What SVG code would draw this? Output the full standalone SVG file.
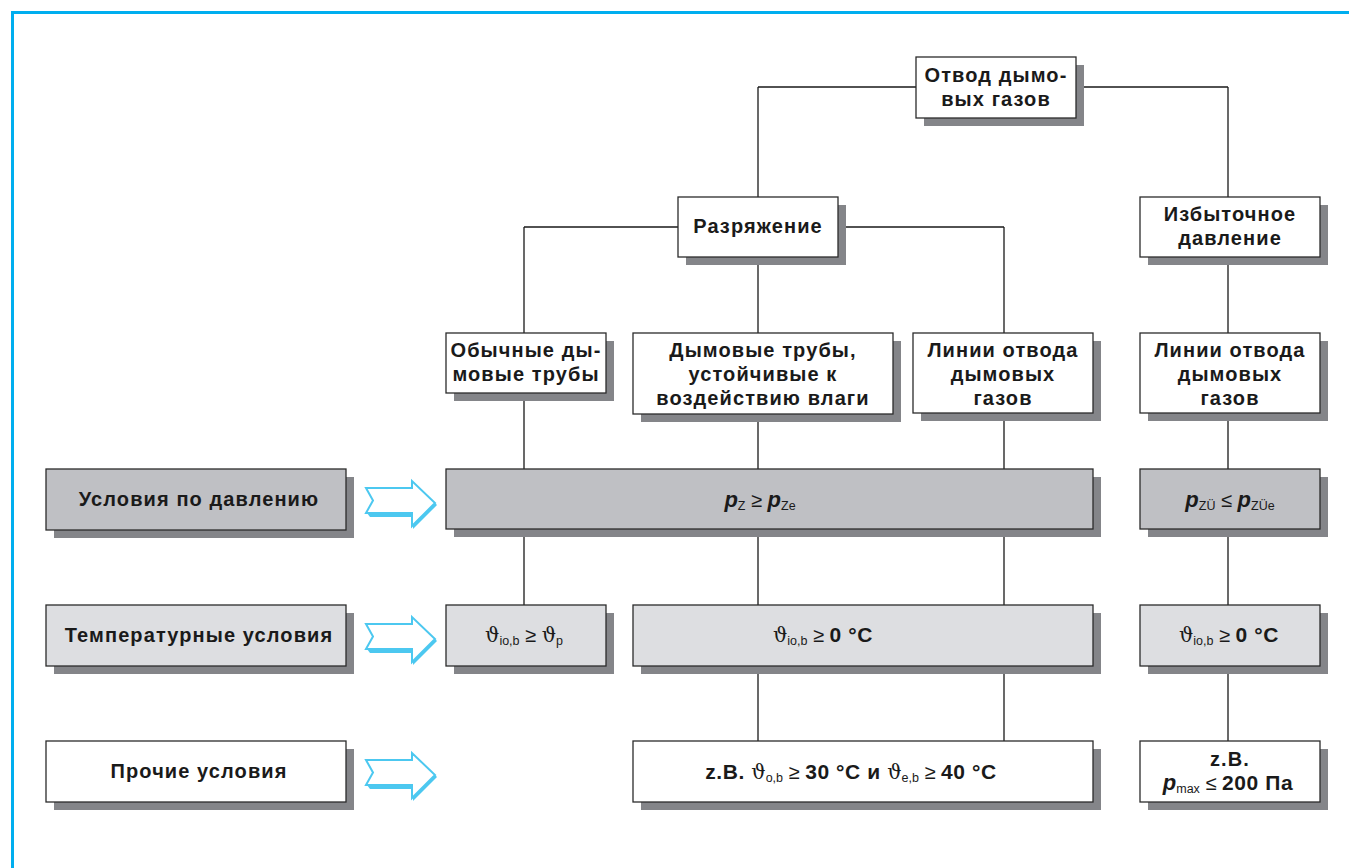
<svg xmlns="http://www.w3.org/2000/svg" width="1349" height="868" viewBox="0 0 1349 868">
  <defs>
    <style>
      .frame { fill: none; stroke: #00aeef; stroke-width: 3; }
      .shadow { fill: #848589; }
      .box { stroke: #2b2b2b; stroke-width: 1.3; }
      .white { fill: #ffffff; }
      .mid { fill: #bfc0c4; }
      .light { fill: #dddee1; }
      .lbl { font-family: "Liberation Sans", Arial, sans-serif; font-size: 20px; letter-spacing: 1.1px; font-weight: bold; fill: #1a1a1a; text-anchor: middle; }
      .f { font-family: "Liberation Sans", Arial, sans-serif; font-size: 20px; fill: #1a1a1a; text-anchor: middle; }
      .b { font-weight: bold; font-size: 21px; letter-spacing: 0.6px; }
      .bi { font-weight: bold; font-style: italic; font-size: 22px; }
      .sub { font-size: 12.5px; font-weight: normal; font-style: normal; letter-spacing: 0; }
      .th { font-family: "DejaVu Serif", "Liberation Serif", serif; font-size: 20px; font-weight: normal; }
      .conn { stroke: #1a1a1a; stroke-width: 1.3; fill: none; }
      .arrow { fill: #ffffff; stroke: #4cc8f0; stroke-width: 2; stroke-linejoin: miter; }
      .arrow-edge { fill: #4cc8f0; }
    </style>
    <g id="bigArrow">
      <polygon class="arrow" points="0,8 46,8 46,1 69,23 46,46 46,33 0,33 7,20.5"/>
      <polygon class="arrow-edge" points="1,33 46,33 46,46 69,23 71,25 47,49 47,37 4,37"/>
    </g>
  </defs>

  <!-- page frame -->
  <path class="frame" d="M12.5,868 V12.5 H1349"/>

  <!-- connectors -->
  <g id="connectors">
    <path class="conn" d="M758,87 H916 M1076,87 H1228 M758,87 V197 M1228,87 V197"/>
    <path class="conn" d="M524,227 H678 M838,227 H1004 M524,227 V333 M1004,227 V333 M758,257 V333 M1228,257 V333"/>
    <path class="conn" d="M524,393 V469 M758,414 V469 M1004,413 V469 M1228,413 V469"/>
    <path class="conn" d="M524,529 V605 M758,529 V605 M1004,529 V605 M1228,529 V605"/>
    <path class="conn" d="M758,666 V741 M1004,666 V741 M1228,666 V741"/>
  </g>

  <!-- tree nodes -->
  <g id="node-otvod">
    <rect class="shadow" x="924" y="65" width="160" height="61"/>
    <rect class="box white" x="916" y="57" width="160" height="61"/>
    <text class="lbl" x="996" y="82">Отвод дымо-</text>
    <text class="lbl" x="996" y="106">вых газов</text>
  </g>

  <g id="node-razr">
    <rect class="shadow" x="686" y="205" width="160" height="60"/>
    <rect class="box white" x="678" y="197" width="160" height="60"/>
    <text class="lbl" x="758" y="233">Разряжение</text>
  </g>

  <g id="node-izb">
    <rect class="shadow" x="1148" y="205" width="180" height="60"/>
    <rect class="box white" x="1140" y="197" width="180" height="60"/>
    <text class="lbl" x="1230" y="221">Избыточное</text>
    <text class="lbl" x="1230" y="245">давление</text>
  </g>

  <g id="node-obych">
    <rect class="shadow" x="454" y="341" width="160" height="60"/>
    <rect class="box white" x="446" y="333" width="160" height="60"/>
    <text class="lbl" x="526" y="357">Обычные ды-</text>
    <text class="lbl" x="526" y="381">мовые трубы</text>
  </g>

  <g id="node-vlaga">
    <rect class="shadow" x="641" y="341" width="260" height="81"/>
    <rect class="box white" x="633" y="333" width="260" height="81"/>
    <text class="lbl" x="763" y="357">Дымовые трубы,</text>
    <text class="lbl" x="763" y="381">устойчивые к</text>
    <text class="lbl" x="763" y="405">воздействию влаги</text>
  </g>

  <g id="node-linii1">
    <rect class="shadow" x="921" y="341" width="180" height="80"/>
    <rect class="box white" x="913" y="333" width="180" height="80"/>
    <text class="lbl" x="1003" y="357">Линии отвода</text>
    <text class="lbl" x="1003" y="381">дымовых</text>
    <text class="lbl" x="1003" y="405">газов</text>
  </g>

  <g id="node-linii2">
    <rect class="shadow" x="1148" y="341" width="180" height="80"/>
    <rect class="box white" x="1140" y="333" width="180" height="80"/>
    <text class="lbl" x="1230" y="357">Линии отвода</text>
    <text class="lbl" x="1230" y="381">дымовых</text>
    <text class="lbl" x="1230" y="405">газов</text>
  </g>

  <!-- row: pressure -->
  <g id="label-pressure">
    <rect class="shadow" x="54" y="477" width="300" height="61"/>
    <rect class="box mid" x="46" y="469" width="300" height="61"/>
    <text class="lbl" x="199" y="506">Условия по давлению</text>
  </g>
  <use href="#bigArrow" x="366" y="480"/>
  <g id="cond-pressure-1">
    <rect class="shadow" x="454" y="477" width="647" height="60"/>
    <rect class="box mid" x="446" y="469" width="647" height="60"/>
    <text class="f" x="760" y="507"><tspan class="bi">p</tspan><tspan class="sub" dy="3">Z</tspan><tspan dy="-3"> ≥ </tspan><tspan class="bi">p</tspan><tspan class="sub" dy="3">Ze</tspan></text>
  </g>
  <g id="cond-pressure-2">
    <rect class="shadow" x="1148" y="477" width="180" height="60"/>
    <rect class="box mid" x="1140" y="469" width="180" height="60"/>
    <text class="f" x="1230" y="507"><tspan class="bi">p</tspan><tspan class="sub" dy="3">ZÜ</tspan><tspan dy="-3"> ≤ </tspan><tspan class="bi">p</tspan><tspan class="sub" dy="3">ZÜe</tspan></text>
  </g>

  <!-- row: temperature -->
  <g id="label-temp">
    <rect class="shadow" x="54" y="613" width="300" height="61"/>
    <rect class="box light" x="46" y="605" width="300" height="61"/>
    <text class="lbl" x="199" y="642">Температурные условия</text>
  </g>
  <use href="#bigArrow" x="366" y="616"/>
  <g id="cond-temp-1">
    <rect class="shadow" x="454" y="613" width="160" height="61"/>
    <rect class="box light" x="446" y="605" width="160" height="61"/>
    <text class="f" x="524" y="642"><tspan class="th">ϑ</tspan><tspan class="sub" dy="3">io,b</tspan><tspan dy="-3"> ≥ </tspan><tspan class="th">ϑ</tspan><tspan class="sub" dy="3">p</tspan></text>
  </g>
  <g id="cond-temp-2">
    <rect class="shadow" x="641" y="613" width="460" height="61"/>
    <rect class="box light" x="633" y="605" width="460" height="61"/>
    <text class="f" x="823" y="642"><tspan class="th">ϑ</tspan><tspan class="sub" dy="3">io,b</tspan><tspan dy="-3"> ≥ </tspan><tspan class="b">0 °C</tspan></text>
  </g>
  <g id="cond-temp-3">
    <rect class="shadow" x="1148" y="613" width="180" height="61"/>
    <rect class="box light" x="1140" y="605" width="180" height="61"/>
    <text class="f" x="1229" y="642"><tspan class="th">ϑ</tspan><tspan class="sub" dy="3">io,b</tspan><tspan dy="-3"> ≥ </tspan><tspan class="b">0 °C</tspan></text>
  </g>

  <!-- row: other -->
  <g id="label-other">
    <rect class="shadow" x="54" y="749" width="300" height="61"/>
    <rect class="box white" x="46" y="741" width="300" height="61"/>
    <text class="lbl" x="199" y="778">Прочие условия</text>
  </g>
  <use href="#bigArrow" x="366" y="752"/>
  <g id="cond-other-1">
    <rect class="shadow" x="641" y="749" width="460" height="61"/>
    <rect class="box white" x="633" y="741" width="460" height="61"/>
    <text class="f" x="851" y="779"><tspan class="b">z.B. </tspan><tspan class="th">ϑ</tspan><tspan class="sub" dy="3">o,b</tspan><tspan dy="-3"> ≥ </tspan><tspan class="b">30 °C и </tspan><tspan class="th">ϑ</tspan><tspan class="sub" dy="3">e,b</tspan><tspan dy="-3"> ≥ </tspan><tspan class="b">40 °C</tspan></text>
  </g>
  <g id="cond-other-2">
    <rect class="shadow" x="1148" y="749" width="180" height="61"/>
    <rect class="box white" x="1140" y="741" width="180" height="61"/>
    <text class="lbl" x="1230" y="766">z.B.</text>
    <text class="f" x="1228" y="790"><tspan class="bi">p</tspan><tspan class="sub" dy="3">max</tspan><tspan dy="-3"> ≤ </tspan><tspan class="b">200 Па</tspan></text>
  </g>
</svg>
